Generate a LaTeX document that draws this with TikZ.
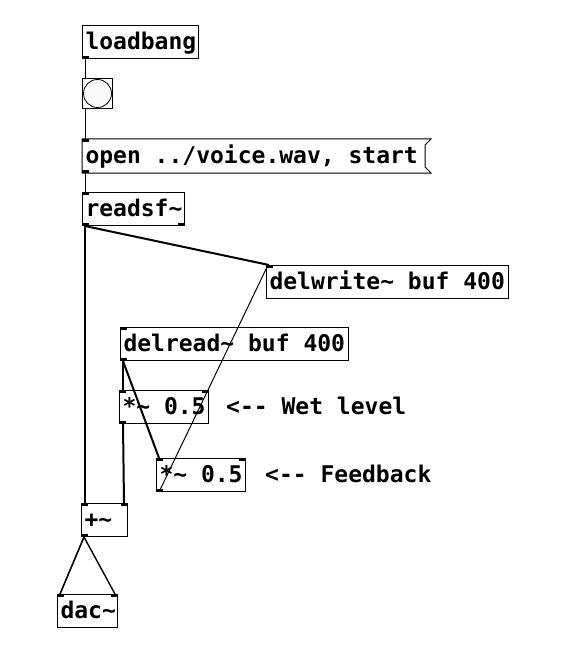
\documentclass[tikz,border=0pt]{standalone}
\usepackage{fontspec}
\setmonofont{DejaVu Sans Mono}
\usetikzlibrary{calc}
\newcommand\pdinL[1]{\fill (#1.north west) rectangle ++(7,3);}
\newcommand\pdinR[1]{\fill (#1.north east) rectangle ++(-7,3);}
\newcommand\pdoutL[1]{\fill (#1.south west) rectangle ++(7,-3);}
\newcommand\pdoutR[1]{\fill (#1.south east) rectangle ++(-7,-3);}
\newcommand\pdtxt[2]{\makebox[#1pt][l]{\spaceskip=0pt\xspaceskip=0pt #2}}
\tikzset{
  pdfont/.style={font=\fontsize{23}{23}\selectfont\ttfamily\bfseries},
  pdbox/.style={pdfont, draw=black, line width=1pt, anchor=north west,
    minimum height=33pt, inner ysep=0pt, inner xsep=3pt,
    text height=19.5pt, text depth=4.5pt},
  pdmsg/.style={pdbox, draw=none},
  pdcomment/.style={pdfont, anchor=base west, inner sep=0pt},
  sig/.style={line width=2pt},
  ctl/.style={line width=1pt},
}
\begin{document}
\begin{tikzpicture}[x=1pt,y=-1pt]
\fill[white] (0,0) rectangle (577,663);
\useasboundingbox (0,0) rectangle (577,663);

% objects
\node[pdbox] (lb) at (82,25) {\pdtxt{110}{loadbang}};
\node[draw=black, line width=1pt, anchor=north west, minimum width=30pt, minimum height=30pt, inner sep=0pt] (bng) at (82,78) {};
\draw[line width=0.8pt, fill=black!2] (bng.center) circle (14);
\node[pdmsg] (msg) at (82,139) {\pdtxt{336}{open ../voice.wav, start}};
\draw[line width=1pt] (msg.north west) -- ([xshift=6pt]msg.north east) -- ([yshift=-6pt]msg.north east) -- ([yshift=6pt]msg.south east) -- ([xshift=6pt]msg.south east) -- (msg.south west) -- cycle;
\node[pdbox] (rsf) at (82,192) {\pdtxt{96}{readsf\textasciitilde}};
\node[pdbox] (dw) at (266,265) {\pdtxt{236}{delwrite\textasciitilde{} buf 400}};
\node[pdbox] (dr) at (120,327) {\pdtxt{222}{delread\textasciitilde{} buf 400}};
\node[pdbox] (wet) at (119,390) {\pdtxt{83}{*\textasciitilde{} 0.5}};
\node[pdbox] (fb) at (156,458) {\pdtxt{83}{*\textasciitilde{} 0.5}};
\node[pdbox] (add) at (81,503) {\pdtxt{40}{+\textasciitilde}};
\node[pdbox] (dac) at (57,594) {\pdtxt{54}{dac\textasciitilde}};

% comments
\node[pdcomment] (cwet) at (226,414) {<-- Wet level};
\node[pdcomment] (cfb) at (265,482) {<-- Feedback};

% inlets / outlets
\pdoutL{lb}
\pdinL{msg} \pdoutL{msg}
\pdinL{rsf} \pdoutL{rsf} \pdoutR{rsf}
\pdinL{dw}
\pdinL{dr} \pdoutL{dr}
\pdinL{wet} \pdinR{wet} \pdoutL{wet}
\pdinL{fb} \pdinR{fb} \pdoutL{fb}
\pdinL{add} \pdinR{add} \pdoutL{add}
\pdinL{dac} \pdinR{dac}

% connections
\draw[ctl] ([xshift=3pt]lb.south west) -- ([xshift=3pt]bng.north west);
\draw[ctl] ([xshift=3pt]bng.south west) -- ([xshift=3pt]msg.north west);
\draw[ctl] ([xshift=3pt]msg.south west) -- ([xshift=3pt]rsf.north west);
\draw[sig] ([xshift=3pt]rsf.south west) -- ([xshift=4pt]add.north west);
\draw[sig] ([xshift=3pt]rsf.south west) -- ([xshift=3pt]dw.north west);
\draw[sig] ([xshift=3pt]dr.south west) -- ([xshift=4pt]wet.north west);
\draw[sig] ([xshift=3pt]dr.south west) -- ([xshift=3pt]fb.north west);
\draw[sig] ([xshift=4pt]wet.south west) -- ([xshift=-4pt]add.north east);
\draw[line width=1pt] ([xshift=3pt]fb.south west) -- ([xshift=2pt]dw.north west);
\draw[line width=1.6pt] ([xshift=3pt]add.south west) -- ([xshift=3pt]dac.north west);
\draw[line width=1.4pt] ([xshift=3pt]add.south west) -- ([xshift=-3pt]dac.north east);
\end{tikzpicture}
\end{document}
